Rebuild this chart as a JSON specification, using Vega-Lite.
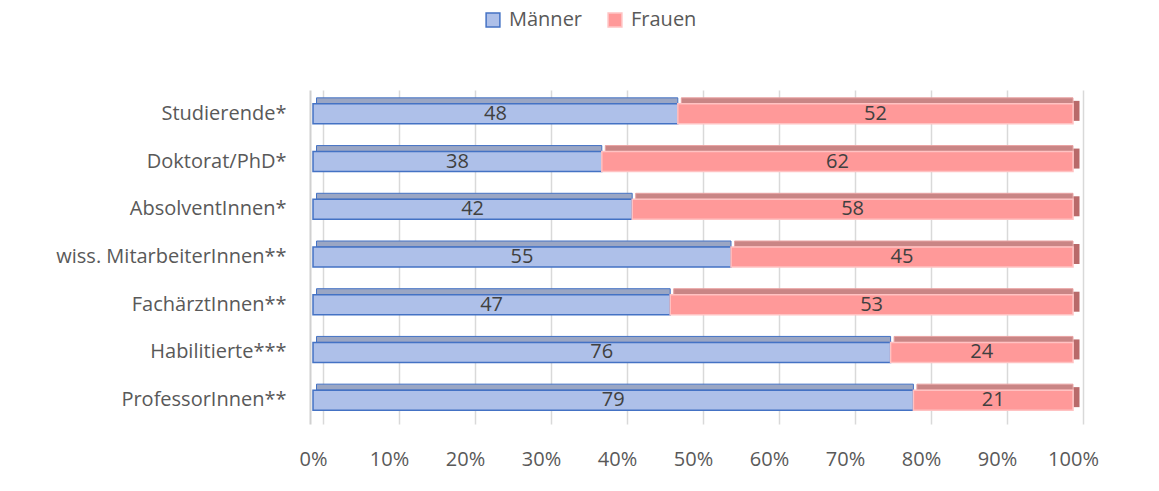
{
  "$schema": "https://vega.github.io/schema/vega-lite/v6.json",
  "width": 760,
  "height": 334,
  "autosize": {"type": "none"},
  "padding": {"left": 313, "top": 90, "right": 86, "bottom": 67},
  "background": "white",
  "config": {
    "font": "Open Sans",
    "view": {"stroke": null}
  },
  "data": {
    "values": [
      {"cat": "Studierende*", "g": "Männer", "v": 48},
      {"cat": "Studierende*", "g": "Frauen", "v": 52},
      {"cat": "Doktorat/PhD*", "g": "Männer", "v": 38},
      {"cat": "Doktorat/PhD*", "g": "Frauen", "v": 62},
      {"cat": "AbsolventInnen*", "g": "Männer", "v": 42},
      {"cat": "AbsolventInnen*", "g": "Frauen", "v": 58},
      {"cat": "wiss. MitarbeiterInnen**", "g": "Männer", "v": 55},
      {"cat": "wiss. MitarbeiterInnen**", "g": "Frauen", "v": 45},
      {"cat": "FachärztInnen**", "g": "Männer", "v": 47},
      {"cat": "FachärztInnen**", "g": "Frauen", "v": 53},
      {"cat": "Habilitierte***", "g": "Männer", "v": 76},
      {"cat": "Habilitierte***", "g": "Frauen", "v": 24},
      {"cat": "ProfessorInnen**", "g": "Männer", "v": 79},
      {"cat": "ProfessorInnen**", "g": "Frauen", "v": 21}
    ]
  },
  "transform": [
    {"stack": "v", "groupby": ["cat"], "sort": [{"field": "g", "order": "descending"}], "as": ["x0", "x1"]},
    {"calculate": "(datum.x0 + datum.x1) / 2", "as": "xm"}
  ],
  "encoding": {
    "y": {
      "field": "cat",
      "type": "nominal",
      "sort": null,
      "title": null,
      "scale": {"paddingInner": 0.3, "paddingOuter": 0.15},
      "axis": {
        "ticks": false,
        "domain": true,
        "domainColor": "#D0D0D0",
        "domainWidth": 2,
        "offset": 3,
        "labelFont": "Open Sans",
        "labelFontSize": 20,
        "labelColor": "#595959",
        "labelPadding": 24,
        "labelLimit": 400
      }
    }
  },
  "layer": [
    {
      "mark": {"type": "point", "opacity": 0},
      "encoding": {
        "x": {
          "field": "x1",
          "type": "quantitative",
          "scale": {"domain": [0, 100], "range": [10, 770], "nice": false},
          "axis": {
            "orient": "bottom",
            "grid": true,
            "gridColor": "#D9D9D9",
            "gridWidth": 1.5,
            "values": [0, 10, 20, 30, 40, 50, 60, 70, 80, 90, 100],
            "labels": false,
            "ticks": false,
            "domain": false,
            "title": null
          }
        }
      }
    },
    {
      "layer": [
        {
          "transform": [{"filter": "datum.g == 'Männer'"}],
          "mark": {"type": "bar", "height": 6, "yOffset": -13, "xOffset": 3.5, "strokeWidth": 1, "fill": "#9AA6C4", "stroke": "#4472C4"},
          "encoding": {
            "x": {"field": "x0", "type": "quantitative", "scale": {"domain": [0, 100], "nice": false}, "axis": {
                "orient": "bottom",
                "grid": false,
                "values": [0, 10, 20, 30, 40, 50, 60, 70, 80, 90, 100],
                "labelExpr": "datum.value + '%'",
                "labelFlush": false,
                "labelOverlap": false,
                "labelFont": "Open Sans",
                "labelFontSize": 20,
                "labelColor": "#595959",
                "labelPadding": 25,
                "ticks": false,
                "domain": false,
                "title": null
              }},
            "x2": {"field": "x1"}
          }
        },
        {
          "transform": [{"filter": "datum.g == 'Frauen'"}],
          "mark": {"type": "bar", "height": 6, "yOffset": -13, "xOffset": 3.5, "strokeWidth": 1, "fill": "#C98585", "stroke": "#E9A3A3"},
          "encoding": {
            "x": {"field": "x0", "type": "quantitative"},
            "x2": {"field": "x1"}
          }
        },
        {
          "transform": [{"filter": "datum.g == 'Frauen'"}],
          "mark": {"type": "tick", "orient": "vertical", "size": 20, "thickness": 6, "xOffset": 3.5, "yOffset": -3, "color": "#B96A6A", "opacity": 1},
          "encoding": {
            "x": {"field": "x1", "type": "quantitative"}
          }
        },
        {
          "mark": {"type": "bar", "height": 20, "strokeWidth": 1.5},
          "encoding": {
            "x": {"field": "x0", "type": "quantitative"},
            "x2": {"field": "x1"},
            "color": {
              "field": "g",
              "type": "nominal",
              "sort": ["Männer", "Frauen"],
              "scale": {"domain": ["Männer", "Frauen"], "range": ["#AEC0E9", "#FF9999"]},
              "legend": {
                "title": null,
                "orient": "none",
                "direction": "horizontal",
                "legendX": 170,
                "legendY": -80,
                "symbolType": "square",
                "symbolSize": 190,
                "symbolStrokeWidth": 1.5,
                "labelFont": "Open Sans",
                "labelFontSize": 20,
                "labelColor": "#595959",
                "labelOffset": 6,
                "columnPadding": 22
              }
            },
            "stroke": {
              "field": "g",
              "type": "nominal",
              "sort": ["Männer", "Frauen"],
              "scale": {"domain": ["Männer", "Frauen"], "range": ["#4472C4", "#FFC2C2"]},
              "legend": {
                "title": null,
                "orient": "none",
                "direction": "horizontal",
                "legendX": 170,
                "legendY": -80,
                "symbolType": "square",
                "symbolSize": 190,
                "symbolStrokeWidth": 1.5,
                "labelFont": "Open Sans",
                "labelFontSize": 20,
                "labelColor": "#595959",
                "labelOffset": 6,
                "columnPadding": 22
              }
            }
          }
        },
        {
          "mark": {"type": "text", "font": "Open Sans", "fontSize": 20, "color": "#404040", "baseline": "middle", "align": "center"},
          "encoding": {
            "x": {"field": "xm", "type": "quantitative"},
            "text": {"field": "v", "type": "quantitative"}
          }
        }
      ]
    }
  ],
  "resolve": {"scale": {"x": "independent"}, "axis": {"x": "independent"}}
}
